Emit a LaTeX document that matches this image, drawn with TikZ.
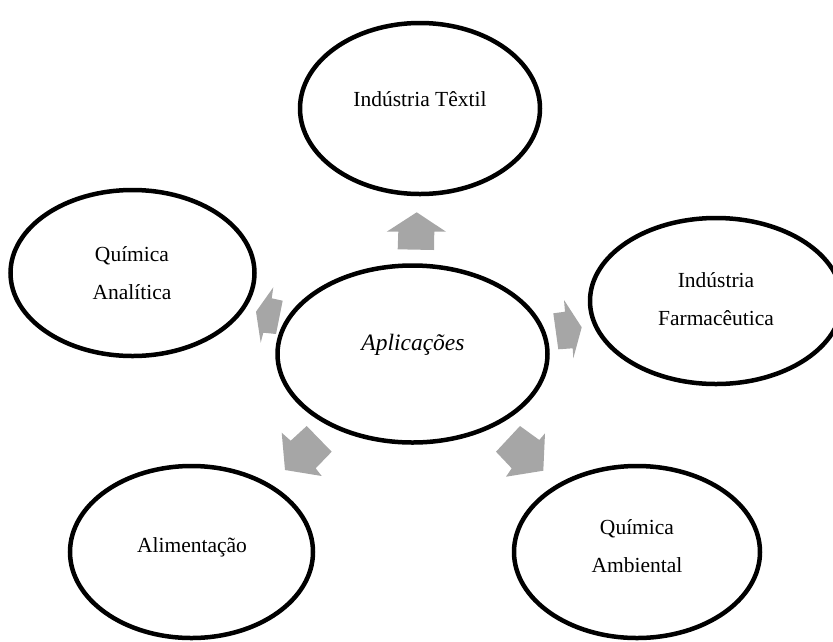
\documentclass[tikz,border=0pt]{standalone}
\usepackage{fontspec}
\setmainfont{Liberation Serif}
\usetikzlibrary{shapes.geometric}
\definecolor{arrowgray}{HTML}{A6A6A6}
\tikzset{
  bubble/.style={ellipse, draw=black, line width=4.5pt, inner sep=0pt, fill=white},
  lbl/.style={font=\fontsize{21.5}{38}\selectfont, align=center, inner sep=0pt},
  blockarrow/.style={fill=arrowgray, draw=none}
}
\begin{document}
\begin{tikzpicture}[x=1pt,y=-1pt]
\useasboundingbox (0,0) rectangle (833,641);
\begin{scope}
\clip (0,0) rectangle (833,641);
% ellipses
\node[bubble, minimum width=240pt, minimum height=171pt] (top) at (420,108.5) {};
\node[bubble, minimum width=270pt, minimum height=177pt] (ctr) at (412.5,354) {};
\node[bubble, minimum width=244pt, minimum height=166pt] (left) at (132.5,273) {};
\node[bubble, minimum width=252pt, minimum height=166pt] (right) at (716,301) {};
\node[bubble, minimum width=243pt, minimum height=172pt] (bl) at (191.5,552) {};
\node[bubble, minimum width=246pt, minimum height=172pt] (br) at (637,552) {};
% texts
\node[lbl] (ttop) at (420,99) {Indústria Têxtil};
\node[lbl, font=\fontsize{23.5}{38}\selectfont\itshape] (tctr) at (413,345) {Aplicações};
\node[lbl] (tleft) at (132,273) {Química\\Analítica};
\node[lbl] (tright) at (716,299) {Indústria\\Farmacêutica};
\node[lbl] (tbl) at (192,547) {Alimentação};
\node[lbl] (tbr) at (637,546) {Química\\Ambiental};
% block arrows
\fill[blockarrow] (416.7,212.3) -- (446,231.7) -- (434.3,231.7) -- (434,250) -- (397.7,249.3) -- (398.3,231.7) -- (386.7,231.7) -- cycle;
\fill[blockarrow] (581.7,327.3) -- (564,300) -- (565,311.7) -- (553.3,313.3) -- (558.3,349.3) -- (572.7,348.3) -- (573.3,358.3) -- cycle;
\fill[blockarrow] (256,311.7) -- (273.3,287.3) -- (271.7,298.3) -- (282.7,300.7) -- (276,334) -- (263.3,332.7) -- (260.7,342.7) -- cycle;
\fill[blockarrow] (285,470) -- (281.7,432.7) -- (290.7,440.7) -- (306.7,426) -- (331.7,451.7) -- (315.7,468.3) -- (321.7,476) -- cycle;
\fill[blockarrow] (543.3,470.7) -- (545,433.3) -- (539.3,440) -- (520,426) -- (496,451.7) -- (511.7,468.3) -- (506,476.7) -- cycle;
\end{scope}
\end{tikzpicture}
\end{document}
